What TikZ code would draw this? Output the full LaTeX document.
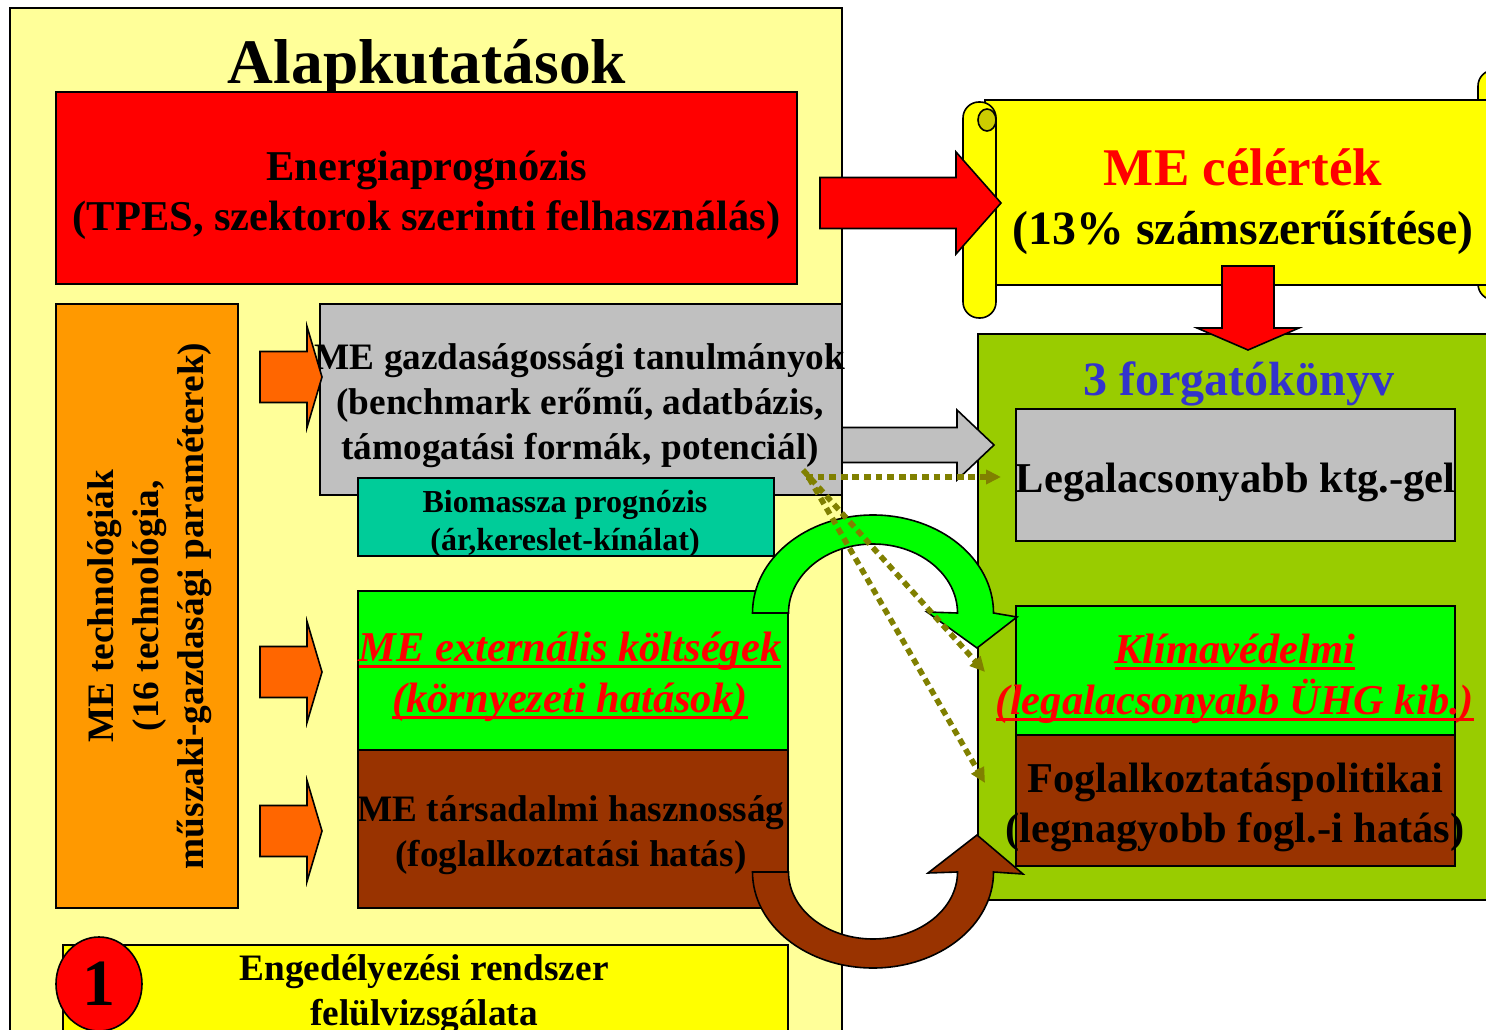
\documentclass[tikz,border=0pt]{standalone}
\usepackage{fontspec}
\setmainfont{Liberation Serif}
\usetikzlibrary{arrows.meta,calc,positioning,shapes.geometric}
\tikzset{>=latex}

\definecolor{paleyellow}{HTML}{FFFF99}
\definecolor{scrollyellow}{HTML}{FFFF00}
\definecolor{silverbox}{HTML}{C0C0C0}
\definecolor{biogreen}{HTML}{00CC99}
\definecolor{brightgreen}{HTML}{00FF00}
\definecolor{brownbox}{HTML}{993300}
\definecolor{olivebox}{HTML}{99CC00}
\definecolor{techorange}{HTML}{FF9900}
\definecolor{arroworange}{HTML}{FF6600}
\definecolor{forgblue}{HTML}{3333CC}
\definecolor{dotolive}{HTML}{808000}

% thick underline
\newcommand{\thickul}[1]{\setbox0\hbox{#1}\rlap{\rule[-3pt]{\wd0}{1.3pt}}\box0}

% block arrow: [style]{start}{tip}{half shaft}{half head}{head length}
\newcommand{\blockarrow}[6][]{%
  \coordinate (ba-base) at ($(#3)!#6!(#2)$);
  \draw[barrow,#1] ($(#2)!#4!90:(#3)$) -- ($(ba-base)!#4!90:(#3)$)
    -- ($(ba-base)!#5!90:(#3)$) -- (#3)
    -- ($(ba-base)!#5!-90:(#3)$) -- ($(ba-base)!#4!-90:(#3)$)
    -- ($(#2)!#4!-90:(#3)$) -- cycle;
}

\begin{document}
\begin{tikzpicture}[x=0.5pt,y=0.5pt,
  box/.style={draw,line width=0.8pt,inner sep=0pt},
  barrow/.style={draw,line width=0.8pt},
  bigtxt/.style={font=\fontsize{21.25}{25}\selectfont\bfseries,align=center},
  midtxt/.style={font=\fontsize{18.65}{22.5}\selectfont\bfseries,align=center},
  smalltxt/.style={font=\fontsize{16}{19}\selectfont\bfseries,align=center},
  redital/.style={font=\fontsize{21.25}{25.5}\selectfont\bfseries\itshape,align=center,text=red},
  dotarrow/.style={draw=dotolive,line width=2.8pt,dash pattern=on 3.4pt off 2.4pt,
    -{Triangle[length=7.5pt,width=7pt]}}]
	\clip (0,0) rectangle (1486,1029);
	\fill[white] (0,0) rectangle (1486,1029);

	% Alapkutatasok
	\node[box,fill=paleyellow,minimum width=416pt,minimum height=516pt] (alap) at (426,505) {};
	\node[font=\fontsize{31.7}{36}\selectfont\bfseries] (alaptitle) at (427,961) {Alapkutatások};
	\node[box,fill=red,minimum width=370.5pt,minimum height=96pt] (energia) at (426.5,841) {};
	\node[bigtxt] (energiatxt) at (426.5,834)
		{Energiaprognózis\\(TPES, szektorok szerinti felhasználás)};
	\node[box,fill=techorange,minimum width=91pt,minimum height=302pt] (tech) at (147,423) {};
	\node[midtxt,rotate=90] (techtxt) at (150,423)
		{ME technológiák\\(16 technológia,\\műszaki-gazdasági paraméterek)};

	\node[box,fill=silverbox,minimum width=261pt,minimum height=95.5pt] (gazd) at (581,629.5) {};
	\node[midtxt] (gazdtxt) at (580,623)
		{ME gazdaságossági tanulmányok\\(benchmark erőmű, adatbázis,\\támogatási formák, potenciál)};
	\node[box,fill=biogreen,minimum width=208pt,minimum height=39pt] (bio) at (566,512) {};
	\node[smalltxt] (biotxt) at (565,505) {Biomassza prognózis\\(ár,kereslet-kínálat)};

	\node[box,fill=brightgreen,minimum width=215pt,minimum height=79.5pt] (ext) at (573,358.5) {};
	\node[redital] (exttxt) at (570,352) {\thickul{ME externális költségek}\\\thickul{(környezeti hatások)}};
	\node[box,fill=brownbox,minimum width=215pt,minimum height=79pt] (tars) at (573,200) {};
	\node[midtxt] (tarstxt) at (571,194) {ME társadalmi hasznosság\\(foglalkoztatási hatás)};

	\node[box,fill=scrollyellow,minimum width=362.5pt,minimum height=67.5pt] (engedely) at (425.5,16.5) {};
	\node[midtxt] (engtxt) at (424,35) {Engedélyezési rendszer\\felülvizsgálata};
	\node[box,ellipse,fill=red,minimum width=43pt,minimum height=47pt,
		font=\fontsize{33}{36}\selectfont\bfseries] (one) at (99,45) {1};

	\foreach \y/\n in {652/1,357/2,198/3}{
		\coordinate (oa\n-s) at (260,\y);
		\coordinate (oa\n-t) at (322,\y);
		\blockarrow[fill=arroworange]{oa\n-s}{oa\n-t}{12.75pt}{25.25pt}{7.5pt}
	}

	% scroll
	\draw[line width=0.8pt,fill=scrollyellow,rounded corners=8pt] (1478,959) rectangle (1540,729);
	\node[box,fill=scrollyellow,minimum width=272.5pt,minimum height=92.5pt] (scroll) at (1257.5,836.5) {};
	\draw[line width=0.8pt,fill=scrollyellow,rounded corners=8pt] (963,927) rectangle (996,711);
	\draw[line width=0.8pt,fill=scrollyellow!80!black] (987,909) ellipse [x radius=4.5pt,y radius=5.5pt];
	\node[font=\fontsize{26.5}{30}\selectfont\bfseries,text=red] (cel1) at (1243,862) {ME célérték};
	\node[font=\fontsize{23.9}{28}\selectfont\bfseries] (cel2) at (1243,796) {(13\% számszerűsítése)};

	\coordinate (ra-s) at (820,826);
	\coordinate (ra-t) at (1001,826);
	\blockarrow[fill=red]{ra-s}{ra-t}{12.75pt}{25.5pt}{22.5pt}

	% forgatokonyv
	\node[box,fill=olivebox,minimum width=276pt,minimum height=283pt] (forg) at (1254,412) {};
	\node[font=\fontsize{24}{28}\selectfont\bfseries,text=forgblue] (forgtitle) at (1239,645) {3 forgatókönyv};
	\node[box,fill=silverbox,minimum width=219.5pt,minimum height=66pt] (legal) at (1235.5,554) {};
	\node[bigtxt] (legaltxt) at (1235.5,547) {Legalacsonyabb ktg.-gel};
	\node[box,fill=brightgreen,minimum width=219.5pt,minimum height=64.5pt] (klima) at (1235.5,358.5) {};
	\node[redital] (klimatxt) at (1235,350) {\thickul{Klímavédelmi}\\\thickul{(legalacsonyabb ÜHG kib.)}};
	\node[box,fill=brownbox,minimum width=219.5pt,minimum height=65.5pt] (fogl) at (1235.5,228.5) {};
	\node[bigtxt] (fogltxt) at (1235,222) {Foglalkoztatáspolitikai\\(legnagyobb fogl.-i hatás)};

	\coordinate (rd-s) at (1248,763);
	\coordinate (rd-t) at (1248,679);
	\blockarrow[fill=red]{rd-s}{rd-t}{13pt}{25.5pt}{11pt}

	\coordinate (ga-s) at (842,584);
	\coordinate (ga-t) at (994,584);
	\blockarrow[fill=silverbox]{ga-s}{ga-t}{8.75pt}{17.5pt}{18.5pt}

	% u-turn arrows
	\draw[barrow,fill=brightgreen] (752.5,416) arc[start angle=180,end angle=0,x radius=60.25pt,y radius=49pt]
		-- (1017,412) -- (977,381) -- (927,417) -- (957.5,416)
		arc[start angle=0,end angle=180,x radius=42.25pt,y radius=34.5pt] -- cycle;
	\draw[barrow,fill=brownbox] (752.5,157) arc[start angle=180,end angle=360,x radius=60.25pt,y radius=48pt]
		-- (1023,155) -- (977,194) -- (928,156) -- (957.5,157)
		arc[start angle=360,end angle=180,x radius=42.25pt,y radius=33.5pt] -- cycle;

	% dotted links
	\coordinate (dh-s) at (806,552);
	\coordinate (dh-t) at (1001,552);
	\coordinate (da-s) at (803,559);
	\coordinate (da-t) at (985,357);
	\coordinate (db-s) at (809,551);
	\coordinate (db-t) at (985,246);
	\draw[dotarrow] (dh-s) -- (dh-t);
	\draw[dotarrow] (da-s) -- (da-t);
	\draw[dotarrow] (db-s) -- (db-t);
\end{tikzpicture}
\end{document}
